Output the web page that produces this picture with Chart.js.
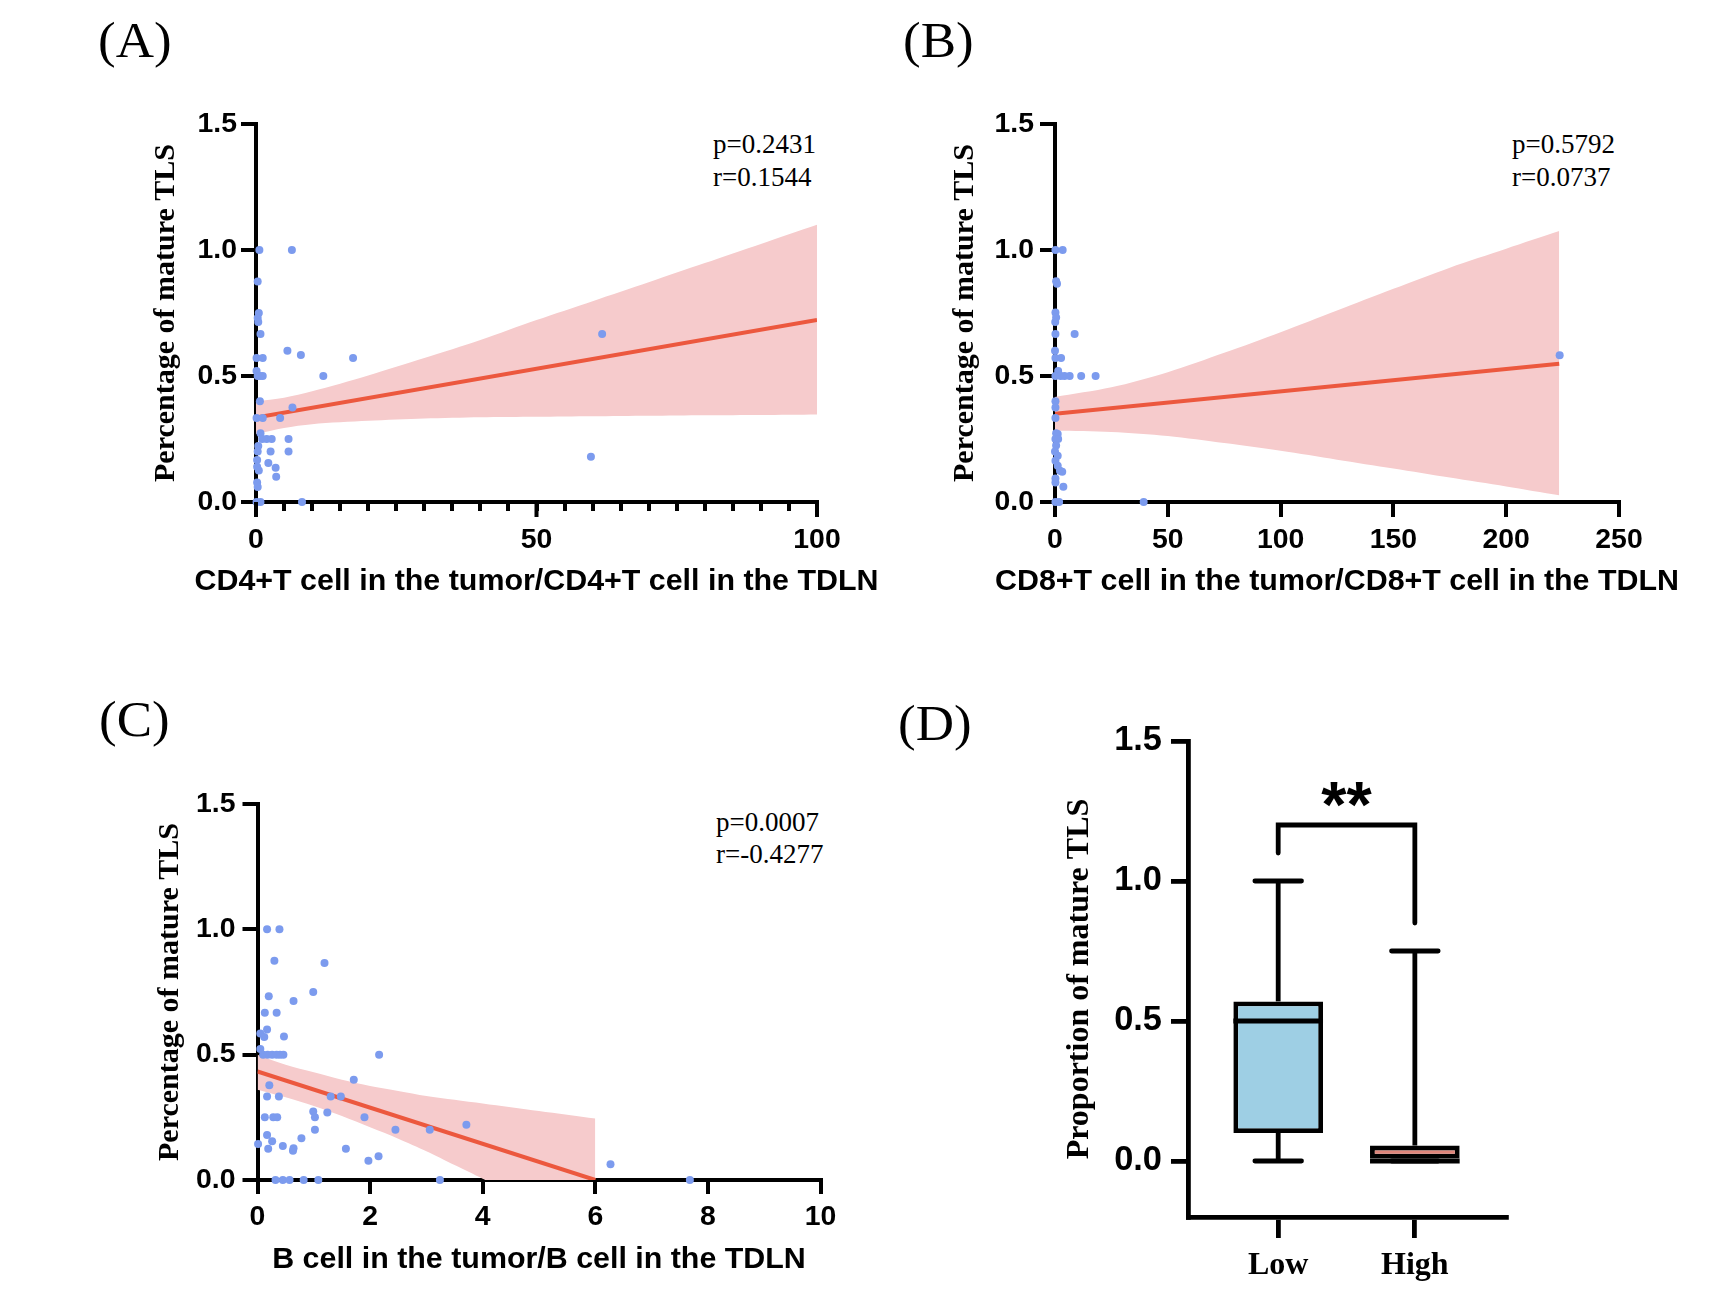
<!DOCTYPE html>
<html><head><meta charset="utf-8">
<script src="https://cdn.jsdelivr.net/npm/chart.js@4.4.1/dist/chart.umd.min.js"></script>
<style>
html,body{margin:0;padding:0;background:#fff;width:1728px;height:1294px;overflow:hidden;position:relative}
canvas{position:absolute}
.lbl{position:absolute;font-family:"Liberation Serif","Times New Roman",serif;font-size:50px;line-height:50px;transform:scaleX(1.06);transform-origin:0 0;color:#000;white-space:nowrap}
.st{position:absolute;font-family:"Liberation Serif","Times New Roman",serif;font-size:27px;line-height:26px;color:#000;white-space:nowrap}
</style></head><body>
<div class="lbl" style="left:98px;top:15px">(A)</div>
<div class="lbl" style="left:903px;top:15px">(B)</div>
<div class="lbl" style="left:99px;top:694px">(C)</div>
<div class="lbl" style="left:898px;top:698px">(D)</div>
<div class="st" style="left:713px;top:131px">p=0.2431</div>
<div class="st" style="left:713px;top:164px">r=0.1544</div>
<div class="st" style="left:1512px;top:131px">p=0.5792</div>
<div class="st" style="left:1512px;top:164px">r=0.0737</div>
<div class="st" style="left:716px;top:809px">p=0.0007</div>
<div class="st" style="left:716px;top:841px">r=-0.4277</div>
<canvas id="cA" width="880" height="530" style="left:0px;top:90px;width:880px;height:530px"></canvas>
<canvas id="cB" width="848" height="530" style="left:880px;top:90px;width:848px;height:530px"></canvas>
<canvas id="cC" width="880" height="524" style="left:0px;top:770px;width:880px;height:524px"></canvas>
<canvas id="cD" width="848" height="604" style="left:880px;top:690px;width:848px;height:604px"></canvas>
<script>
const SERIF='"Liberation Serif", "Times New Roman", serif';
const PT='rgb(124,155,238)', LINE='rgb(236,88,62)', BAND='rgb(246,203,204)';

const Y_TICKS=[0,0.5,1.0,1.5];
const Y_TITLE='Percentage of mature TLS';

// ---- Panel A ----
const A_X=[0.6,6.4,0.3,0.5,0.3,0.4,0.8,61.7,5.6,8.0,17.3,0.1,1.2,0.1,0.3,0.7,1.2,12.0,0.7,6.5,0.1,1.2,4.3,0.8,1.1,1.9,2.8,5.8,0.4,0.3,2.6,5.8,59.7,0.2,2.2,0.2,3.5,0.5,3.6,0.2,0.3,0.1,0.8,8.2];
const A_Y=[1.0,1.0,0.875,0.75,0.73,0.714,0.667,0.667,0.6,0.583,0.571,0.571,0.571,0.52,0.5,0.5,0.5,0.5,0.4,0.375,0.333,0.333,0.333,0.273,0.25,0.25,0.25,0.25,0.222,0.2,0.2,0.2,0.18,0.167,0.155,0.14,0.136,0.125,0.1,0.077,0.06,0,0,0];
const A_FIT_X=[0,100], A_FIT_Y=[0.335,0.722];
const A_BAND_X=[0,5,10,20,30,40,50,60,70,80,90,100];
const A_BAND_UP=[0.40,0.414,0.439,0.502,0.571,0.643,0.722,0.797,0.872,0.948,1.024,1.10];
const A_BAND_LO=[0.27,0.294,0.309,0.322,0.331,0.336,0.338,0.34,0.342,0.344,0.345,0.347];
const A_X_TICKS=[0,5,10,15,20,25,30,35,40,45,50,55,60,65,70,75,80,85,90,95,100];
const A_X_LABELS=[0,50,100];
const A_X_TITLE='CD4+T cell in the tumor/CD4+T cell in the TDLN';

// ---- Panel B ----
const B_X=[0.2,3.4,0.5,0.9,0.2,0.5,0.1,0.2,8.7,0.0,0.2,2.7,1.4,0.2,2.5,4.2,6.5,11.6,18.0,0.2,0.2,0.2,0.5,1.2,0.2,1.4,0.5,0.0,1.2,0.2,1.2,2.2,3.2,0.2,0.2,3.7,0.2,1.8,39.3,223.7];
const B_Y=[1.0,1.0,0.876,0.866,0.752,0.732,0.714,0.667,0.667,0.6,0.571,0.571,0.52,0.5,0.5,0.5,0.5,0.5,0.5,0.4,0.375,0.333,0.273,0.27,0.25,0.25,0.224,0.2,0.184,0.164,0.144,0.124,0.12,0.093,0.077,0.061,0,0,0,0.582];
const B_FIT_X=[0,223.5], B_FIT_Y=[0.35,0.549];
const B_BAND_X=[0,25,50,75,100,125,150,175,200,223.5];
const B_BAND_UP=[0.417,0.455,0.515,0.592,0.674,0.76,0.846,0.93,1.005,1.075];
const B_BAND_LO=[0.283,0.278,0.262,0.234,0.203,0.168,0.133,0.097,0.062,0.027];
const B_X_TICKS=[0,50,100,150,200,250];
const B_X_TITLE='CD8+T cell in the tumor/CD8+T cell in the TDLN';

// ---- Panel C ----
const C_X=[0.17,0.39,0.30,1.19,0.99,0.20,0.64,0.13,0.34,0.17,0.05,0.12,0.47,0.05,0.10,0.18,0.26,0.34,0.40,0.46,2.16,1.71,0.21,0.17,0.38,1.30,1.48,0.99,1.24,0.13,0.28,0.35,1.02,1.90,3.71,1.02,2.45,3.06,0.17,0.78,0.26,0.01,0.45,0.19,0.64,0.63,1.57,2.15,1.97,6.27,0.32,0.45,0.57,0.82,1.08,3.24,7.68];
const C_Y=[1.0,1.0,0.875,0.866,0.75,0.733,0.714,0.667,0.667,0.6,0.584,0.57,0.572,0.523,0.5,0.5,0.5,0.5,0.5,0.5,0.5,0.4,0.378,0.333,0.333,0.333,0.333,0.273,0.269,0.25,0.25,0.25,0.25,0.25,0.22,0.2,0.2,0.2,0.18,0.167,0.155,0.144,0.136,0.125,0.127,0.117,0.125,0.095,0.077,0.0625,0,0,0,0,0,0,0];
const C_FIT_X=[0,6], C_FIT_Y=[0.433,0.0];
const C_BAND_X=[0,0.5,1,1.5,2,2.5,3,3.5,4,5,6];
const C_BAND_UP=[0.50,0.46,0.43,0.40,0.375,0.355,0.335,0.32,0.305,0.275,0.245];
const C_BAND_LO=[0.36,0.33,0.295,0.255,0.21,0.165,0.115,0.06,0.005,-0.115,-0.235];
const C_X_TICKS=[0,2,4,6,8,10];
const C_X_TITLE='B cell in the tumor/B cell in the TDLN';

// ---- Panel D ----
const D_GROUPS=['Low','High'];
const D_MIN=[0,0], D_Q1=[0.1,0], D_MED=[0.5,0], D_Q3=[0.57,0.055], D_MAX=[1.0,0.75];
const D_COLORS=['rgb(158,207,228)','rgb(222,133,122)'];
const D_BRACKET_Y=1.2, D_BRACKET_LEGS=[1.1,0.85], D_SIG='**';
const D_Y_TICKS=[0,0.5,1.0,1.5];
const D_Y_TITLE='Proportion of mature TLS';

// choose a bold sans family whose width matches Arial/Helvetica bold metrics
function pickSans(){
  const c=document.createElement('canvas').getContext('2d');
  const cands=['Arial','"Liberation Sans"','Helvetica','Roboto','"Noto Sans"','"Open Sans"','Lato','Inter','"DejaVu Sans"','sans-serif'];
  const target=684;
  let best=cands[0],bd=1e9,bw=target;
  for(const f of cands){
    c.font='bold 30px '+f+', monospace';
    const w=c.measureText(A_X_TITLE).width;
    const d=Math.abs(w-target);
    if(d<bd){bd=d;best=f;bw=w;}
  }
  return {family:best+', sans-serif',scale:Math.max(0.9,Math.min(1.25,target/bw))};
}
const SF=pickSans();
const SANS=SF.family;
const FS=v=>Math.round(v*SF.scale*10)/10;

const majorTickPlugin={
  id:'majorTicks',
  afterDraw(chart,args,opts){
    if(!opts||!opts.values) return;
    const s=chart.scales.x,c=chart.ctx;
    c.save();c.strokeStyle='#000';c.lineWidth=opts.width;
    for(const v of opts.values){const px=s.getPixelForValue(v);c.beginPath();c.moveTo(px,s.top);c.lineTo(px,s.top+opts.length);c.stroke();}
    c.restore();
  }
};
// x-axis title without Chart.js maxWidth squeezing (title is wider than the plot area)
const xTitlePlugin={
  id:'xTitleFree',
  afterDraw(chart,args,opts){
    if(!opts||!opts.text) return;
    const s=chart.scales.x,c=chart.ctx;
    c.save();c.fillStyle='#000';c.font='bold '+opts.size+'px '+SANS;c.textAlign='center';c.textBaseline='middle';
    c.fillText(opts.text,(s.left+s.right)/2,s.bottom-opts.offset);
    c.restore();
  }
};

function pts(xs,ys){return xs.map((x,i)=>({x:x,y:ys[i]}));}
const AXW=4;

function scatterPanel(id,p){
  return new Chart(document.getElementById(id),{
    type:'scatter',
    data:{datasets:[
      {type:'scatter',data:pts(p.xs,p.ys),backgroundColor:PT,pointRadius:4,pointBorderWidth:0,clip:false,order:0},
      {type:'line',data:pts(p.fitX,p.fitY),borderColor:LINE,borderWidth:4,pointRadius:0,fill:false,order:1},
      {type:'line',data:pts(p.bandX,p.bandUp),borderColor:'rgba(0,0,0,0)',borderWidth:0,pointRadius:0,backgroundColor:BAND,fill:'+1',tension:0.3,order:2},
      {type:'line',data:pts(p.bandX,p.bandLo),borderColor:'rgba(0,0,0,0)',borderWidth:0,pointRadius:0,fill:false,tension:0.3,order:3}
    ]},
    plugins:[majorTickPlugin,xTitlePlugin],
    options:{
      responsive:false,animation:false,devicePixelRatio:1,
      layout:{padding:{left:0,top:p.padTop,right:p.padRight,bottom:0}},
      plugins:{legend:{display:false},tooltip:{enabled:false},majorTicks:p.major||{},
        xTitleFree:{text:p.xTitle,size:FS(30),offset:p.xTitleOff}},
      scales:{
        x:{type:'linear',min:p.xMin,max:p.xMax,
          afterBuildTicks:s=>{s.ticks=p.xTicks.map(v=>({value:v}));},
          ticks:{autoSkip:false,maxRotation:0,callback:v=>p.xLabels.includes(v)?String(v):'',font:{family:SANS,size:FS(28),weight:'bold'},color:'#000',padding:p.xTickPad},
          grid:{drawOnChartArea:false,tickLength:p.xTickLen,color:'#000',lineWidth:AXW},
          border:{color:'#000',width:AXW},
          title:{display:false},
          afterFit:s=>{s.height=p.xHeight;}
        },
        y:{type:'linear',min:0,max:1.5,
          afterBuildTicks:s=>{s.ticks=Y_TICKS.map(v=>({value:v}));},
          ticks:{callback:v=>v.toFixed(1),font:{family:SANS,size:FS(28),weight:'bold'},color:'#000',padding:p.yTickPad},
          grid:{drawOnChartArea:false,tickLength:15,color:'#000',lineWidth:AXW},
          border:{color:'#000',width:AXW},
          title:{display:true,text:Y_TITLE,font:{family:SERIF,size:30,weight:'bold',lineHeight:1},color:'#000',padding:{top:p.yTitleOff-15,bottom:0}},
          afterFit:s=>{s.width=p.yWidth;}
        }
      }
    }
  });
}

scatterPanel('cA',{xs:A_X,ys:A_Y,fitX:A_FIT_X,fitY:A_FIT_Y,bandX:A_BAND_X,bandUp:A_BAND_UP,bandLo:A_BAND_LO,
  xMin:0,xMax:100,xTicks:A_X_TICKS,xLabels:A_X_LABELS,xTitle:A_X_TITLE,
  major:{values:A_X_LABELS,length:15,width:AXW},
  padTop:34,padRight:63,yWidth:256,xHeight:118,xTickLen:9,xTickPad:12,yTickPad:4,xTitleOff:38,yTitleOff:166});
scatterPanel('cB',{xs:B_X,ys:B_Y,fitX:B_FIT_X,fitY:B_FIT_Y,bandX:B_BAND_X,bandUp:B_BAND_UP,bandLo:B_BAND_LO,
  xMin:0,xMax:250,xTicks:B_X_TICKS,xLabels:B_X_TICKS,xTitle:B_X_TITLE,
  padTop:34,padRight:109,yWidth:175,xHeight:118,xTickLen:15,xTickPad:6,yTickPad:6,xTitleOff:38,yTitleOff:85});
scatterPanel('cC',{xs:C_X,ys:C_Y,fitX:C_FIT_X,fitY:C_FIT_Y,bandX:C_BAND_X,bandUp:C_BAND_UP,bandLo:C_BAND_LO,
  xMin:0,xMax:10,xTicks:C_X_TICKS,xLabels:C_X_TICKS,xTitle:C_X_TITLE,
  padTop:34,padRight:59.5,yWidth:257.5,xHeight:114,xTickLen:14,xTickPad:6,yTickPad:7,xTitleOff:34.5,yTitleOff:170});

const boxPlugin={
  id:'boxExtras',
  afterDatasetsDraw(chart){
    const xs=chart.scales.x,ys=chart.scales.y,c=chart.ctx;
    const meta=chart.getDatasetMeta(0);
    c.save();c.strokeStyle='#000';c.lineWidth=4.8;
    const seg=(x1,y1,x2,y2,cap)=>{c.lineCap=cap||'butt';c.beginPath();c.moveTo(x1,y1);c.lineTo(x2,y2);c.stroke();};
    D_GROUPS.forEach((g,i)=>{
      const px=xs.getPixelForValue(i);
      const bw=meta.data[i].width/2;
      const capw=bw*0.52;
      const yq3=ys.getPixelForValue(D_Q3[i]),ymax=ys.getPixelForValue(D_MAX[i]);
      const yq1=ys.getPixelForValue(D_Q1[i]),ymin=ys.getPixelForValue(D_MIN[i]);
      seg(px,yq3,px,ymax);
      seg(px-capw,ymax,px+capw,ymax,'round');
      if(yq1!==ymin){seg(px,yq1,px,ymin);}
      seg(px-capw,ymin,px+capw,ymin,'round');
      const ym=ys.getPixelForValue(D_MED[i]);
      seg(px-bw,ym,px+bw,ym);
    });
    const x0=xs.getPixelForValue(0),x1=xs.getPixelForValue(1),yb=ys.getPixelForValue(D_BRACKET_Y);
    c.lineCap='round';c.lineJoin='miter';
    c.beginPath();
    c.moveTo(x0,ys.getPixelForValue(D_BRACKET_LEGS[0]));c.lineTo(x0,yb);c.lineTo(x1,yb);c.lineTo(x1,ys.getPixelForValue(D_BRACKET_LEGS[1]));
    c.stroke();
    c.fillStyle='#000';c.font='bold '+FS(64)+'px '+SANS;c.textAlign='center';c.textBaseline='alphabetic';
    c.fillText(D_SIG,(x0+x1)/2,yb+1.5);
    c.restore();
  }
};

new Chart(document.getElementById('cD'),{
  type:'bar',
  data:{datasets:[{data:D_GROUPS.map((g,i)=>({x:i,y:[D_Q1[i],D_Q3[i]]})),backgroundColor:D_COLORS,borderColor:'#000',borderWidth:4.8,borderSkipped:false,barPercentage:0.656,categoryPercentage:1}]},
  plugins:[boxPlugin],
  options:{
    responsive:false,animation:false,devicePixelRatio:1,
    layout:{padding:{left:0,top:51,right:222,bottom:0}},
    plugins:{legend:{display:false},tooltip:{enabled:false}},
    scales:{
      x:{type:'linear',min:-0.66,max:1.667,offset:false,
        afterBuildTicks:s=>{s.ticks=D_GROUPS.map((g,i)=>({value:i}));},
        ticks:{autoSkip:false,maxRotation:0,callback:(v,i)=>D_GROUPS[i],font:{family:SERIF,size:32,weight:'bold'},color:'#000',padding:8.5},
        grid:{offset:false,drawOnChartArea:false,tickLength:21,color:'#000',lineWidth:4.8},
        border:{color:'#000',width:4.8},
        afterFit:s=>{s.height=77;}
      },
      y:{type:'linear',min:-0.2,max:1.5,
        afterBuildTicks:s=>{s.ticks=D_Y_TICKS.map(v=>({value:v}));},
        ticks:{callback:v=>v.toFixed(1),font:{family:SANS,size:FS(34),weight:'bold'},color:'#000',padding:9},
        grid:{drawOnChartArea:false,tickLength:17,color:'#000',lineWidth:4.8},
        border:{color:'#000',width:4.8},
        title:{display:true,text:D_Y_TITLE,font:{family:SERIF,size:32,weight:'bold',lineHeight:1},color:'#000',padding:{top:200-16,bottom:0}},
        afterFit:s=>{s.width=308;}
      }
    }
  }
});
</script>
</body></html>
